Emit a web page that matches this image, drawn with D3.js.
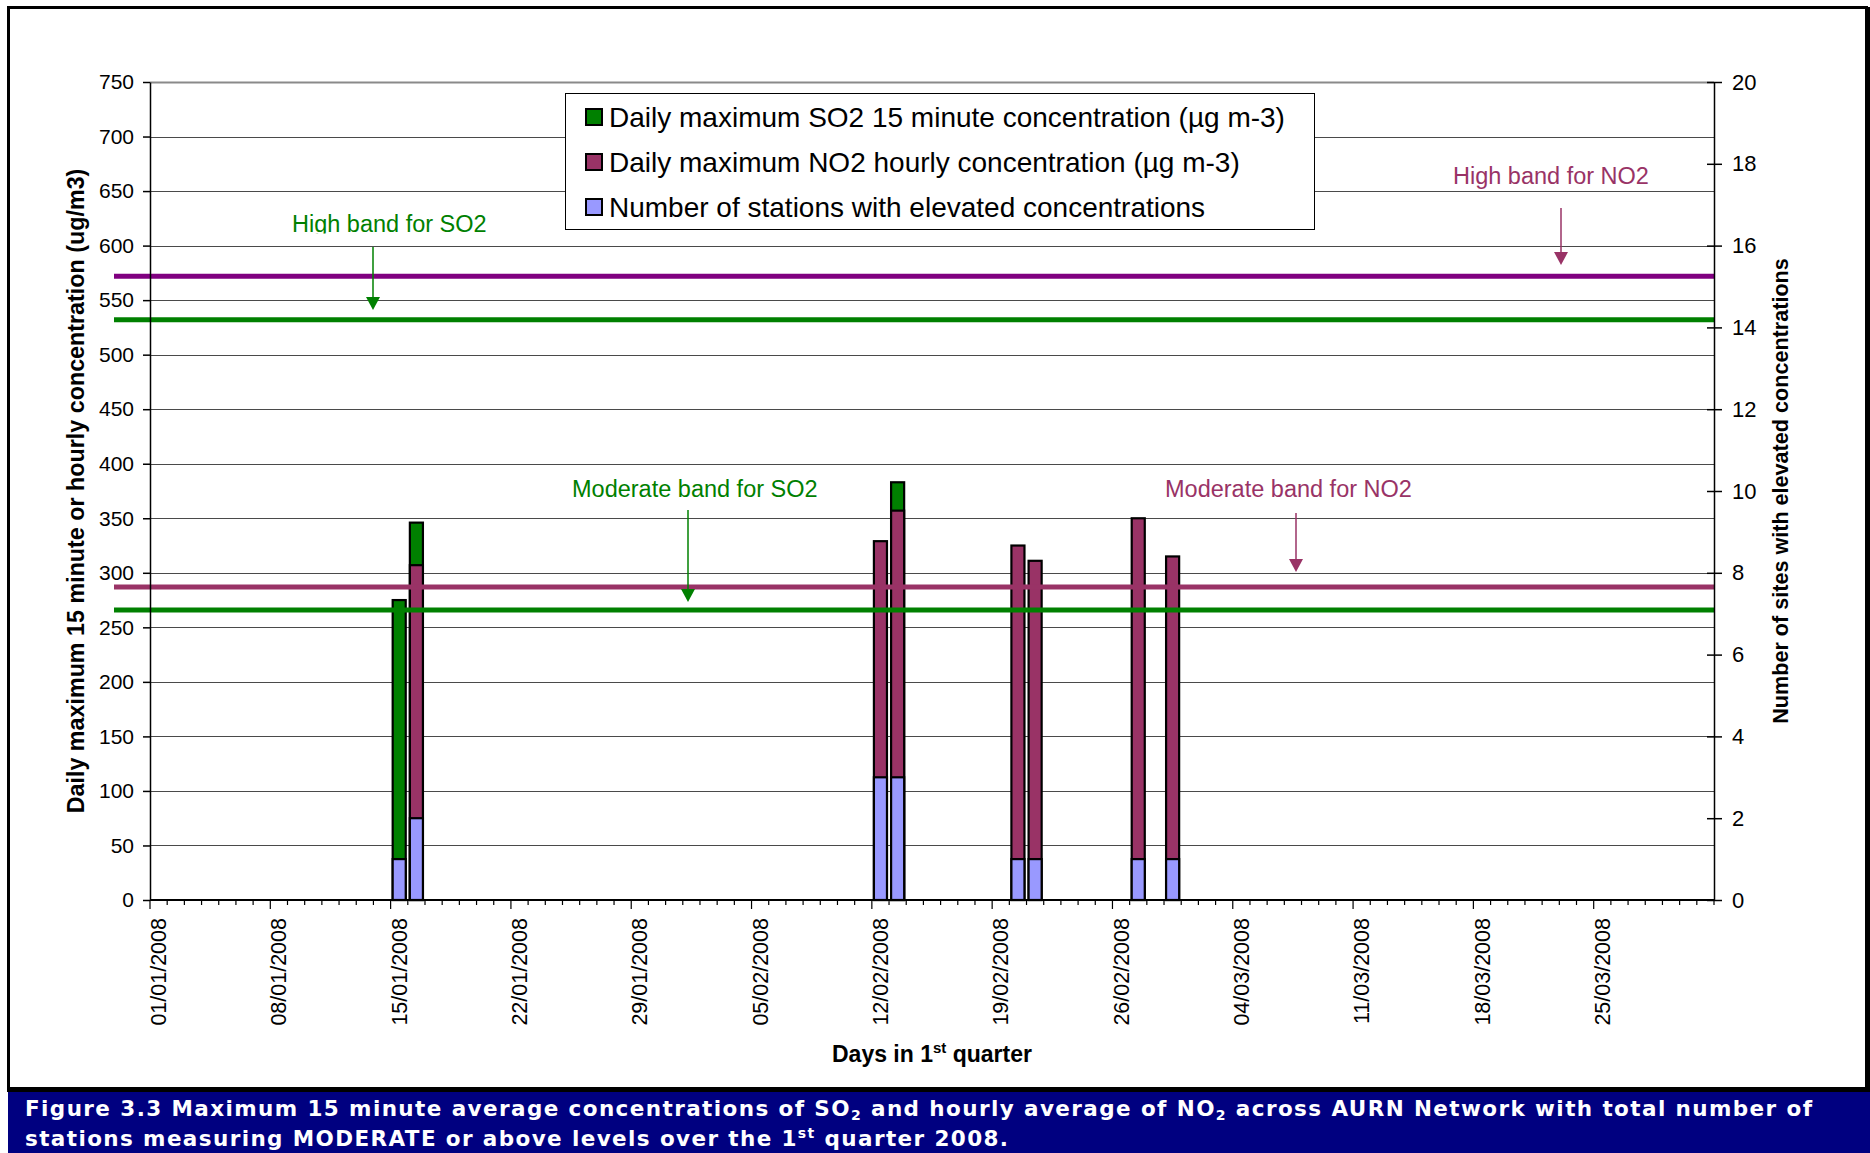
<!DOCTYPE html>
<html>
<head>
<meta charset="utf-8">
<script src="https://cdn.jsdelivr.net/npm/d3@7"></script>
<style>
  body { margin: 0; background: #fff; }
  svg { display: block; }
</style>
</head>
<body>
<svg id="chart" width="1870" height="1153"></svg>
<script>
// ---- Data -------------------------------------------------------------
// Category axis: every day of the first quarter of 2008
const quarterStart = "01/01/2008";
const quarterEnd = "31/03/2008";

// Days on which at least one station measured MODERATE or above
const eventDays = ["15/01/2008", "16/01/2008", "12/02/2008", "13/02/2008",
                   "20/02/2008", "21/02/2008", "27/02/2008", "29/02/2008"];
// Daily maximum SO2 15 minute concentration (µg m-3)
const so2Max = [275, 346, null, 383, null, null, null, null];
// Daily maximum NO2 hourly concentration (µg m-3)
const no2Max = [null, 307, 329, 357, 325, 311, 350, 315];
// Number of stations with elevated concentrations (right axis)
const stationCounts = [1, 2, 3, 3, 1, 1, 1, 1];

// Banding thresholds (µg m-3)
const bandLabels = ["High band for NO2", "High band for SO2", "Moderate band for NO2", "Moderate band for SO2"];
const bandValues = [572, 532, 287, 266];

// Axis ticks
const leftTicks = [0, 50, 100, 150, 200, 250, 300, 350, 400, 450, 500, 550, 600, 650, 700, 750];
const rightTicks = [0, 2, 4, 6, 8, 10, 12, 14, 16, 18, 20];
const xTickLabels = ["01/01/2008", "08/01/2008", "15/01/2008", "22/01/2008", "29/01/2008",
                     "05/02/2008", "12/02/2008", "19/02/2008", "26/02/2008", "04/03/2008",
                     "11/03/2008", "18/03/2008", "25/03/2008"];

// ---- Layout -----------------------------------------------------------
const W = 1870, H = 1153;
const plot = { left: 150, right: 1714, top: 82, bottom: 900 };
const colors = { so2: "#008000", no2: "#993366", count: "#9999FF", navy: "#000080" };
const bandStyle = [
  { color: "#800080", text: "#993366", tx: 1453, ty: 184, ax: 1561, a0: 208, a1: 265 },
  { color: "#008000", text: "#008000", tx: 292,  ty: 232, ax: 373,  a0: 247, a1: 310, clip: 233.5 },
  { color: "#993366", text: "#993366", tx: 1165, ty: 497, ax: 1296, a0: 513, a1: 572 },
  { color: "#008000", text: "#008000", tx: 572,  ty: 497, ax: 688,  a0: 510, a1: 602 }
];

const svg = d3.select("#chart");
const parse = d3.timeParse("%d/%m/%Y");
const fmt = d3.timeFormat("%d/%m/%Y");
const days = d3.timeDay.range(parse(quarterStart), d3.timeDay.offset(parse(quarterEnd), 1)).map(fmt);

const x = d3.scaleBand(days, [plot.left, plot.right]).paddingInner(0.24).paddingOuter(0.12);
const y = d3.scaleLinear([0, 750], [plot.bottom, plot.top]);
const y2 = d3.scaleLinear([0, 20], [plot.bottom, plot.top]);
const step = x.step();
const slotStart = d => x(d) - step * 0.12;

// ---- Frame and caption band -------------------------------------------
svg.append("rect").attr("width", W).attr("height", H).attr("fill", "#fff");
svg.append("rect").attr("x", 8).attr("y", 1090).attr("width", W - 8).attr("height", H - 1090)
  .attr("fill", colors.navy);
svg.append("rect").attr("x", 8.5).attr("y", 7.5).attr("width", 1858).attr("height", 1082)
  .attr("fill", "none").attr("stroke", "#000").attr("stroke-width", 3);
svg.append("rect").attr("x", 7).attr("y", 1087).attr("width", W - 7).attr("height", 5).attr("fill", "#000");
svg.append("rect").attr("x", 1866).attr("y", 7).attr("width", 4).attr("height", 1085).attr("fill", "#000");

// ---- Gridlines --------------------------------------------------------
svg.append("g").selectAll("line").data(leftTicks.filter(v => v > 0)).join("line")
  .attr("x1", plot.left).attr("x2", plot.right)
  .attr("y1", d => Math.round(y(d)) + 0.5).attr("y2", d => Math.round(y(d)) + 0.5)
  .attr("stroke", d => d === 750 ? "#8a8a8a" : "#4a4a4a")
  .attr("stroke-width", d => d === 750 ? 2 : 1);

// ---- Bars -------------------------------------------------------------
const barLayer = svg.append("g").attr("stroke", "#000").attr("stroke-width", 2.2);
function drawBars(values, scale, fill) {
  const rows = eventDays.map((d, i) => ({ d, v: values[i] })).filter(r => r.v != null);
  barLayer.append("g").selectAll("rect").data(rows).join("rect")
    .attr("x", r => x(r.d)).attr("width", x.bandwidth())
    .attr("y", r => scale(r.v)).attr("height", r => scale(0) - scale(r.v))
    .attr("fill", fill);
}
drawBars(so2Max, y, colors.so2);
drawBars(no2Max, y, colors.no2);
drawBars(stationCounts, y2, colors.count);

// ---- Band threshold lines ---------------------------------------------
svg.append("g").selectAll("line").data(bandValues).join("line")
  .attr("x1", 114).attr("x2", plot.right)
  .attr("y1", d => y(d)).attr("y2", d => y(d))
  .attr("stroke", (d, i) => bandStyle[i].color).attr("stroke-width", 5);

// ---- Band annotations -------------------------------------------------
const defs = svg.append("defs");
bandLabels.forEach((label, i) => {
  const s = bandStyle[i];
  const g = svg.append("g");
  const t = g.append("text").attr("x", s.tx).attr("y", s.ty)
    .attr("font-family", "'Liberation Sans', Arial, sans-serif").attr("font-size", 23.5)
    .attr("fill", s.text).text(label);
  if (s.clip) {
    defs.append("clipPath").attr("id", "clip" + i)
      .append("rect").attr("x", 0).attr("y", 0).attr("width", W).attr("height", s.clip);
    t.attr("clip-path", `url(#clip${i})`);
  }
  g.append("line").attr("x1", s.ax).attr("x2", s.ax).attr("y1", s.a0).attr("y2", s.a1 - 10)
    .attr("stroke", s.text).attr("stroke-width", 1.5);
  g.append("path").attr("d", `M${s.ax - 7},${s.a1 - 13} L${s.ax + 7},${s.a1 - 13} L${s.ax},${s.a1} Z`)
    .attr("fill", s.text);
});

// ---- Axes -------------------------------------------------------------
const tickFont = "'Liberation Sans', Arial, sans-serif";

const leftAxis = svg.append("g").attr("transform", `translate(${plot.left},0)`)
  .call(d3.axisLeft(y).tickValues(leftTicks).tickSize(7).tickPadding(9).tickSizeOuter(0));
leftAxis.selectAll("text").attr("font-family", tickFont).attr("font-size", 21).attr("fill", "#000");
leftAxis.selectAll("line, path").attr("stroke", "#000").attr("stroke-width", 1.5);

const rightAxis = svg.append("g").attr("transform", `translate(${plot.right},0)`)
  .call(d3.axisRight(y2).tickValues(rightTicks).tickSize(8).tickPadding(10).tickSizeOuter(0));
rightAxis.selectAll(".tick line").attr("x1", -7);
rightAxis.selectAll("text").attr("font-family", tickFont).attr("font-size", 22).attr("fill", "#000");
rightAxis.selectAll("line, path").attr("stroke", "#000").attr("stroke-width", 1.5);

// Category axis: baseline, ticks between days, rotated date labels
const xAxis = svg.append("g");
xAxis.append("line").attr("x1", plot.left).attr("x2", plot.right)
  .attr("y1", plot.bottom).attr("y2", plot.bottom).attr("stroke", "#000").attr("stroke-width", 2);
const boundaries = days.map(slotStart).concat([plot.right]);
xAxis.append("g").selectAll("line").data(boundaries).join("line")
  .attr("x1", d => d).attr("x2", d => d)
  .attr("y1", plot.bottom)
  .attr("y2", (d, i) => plot.bottom + (i < days.length && xTickLabels.includes(days[i]) ? 9 : 5))
  .attr("stroke", "#000").attr("stroke-width", 1.2);
xAxis.append("g").selectAll("text").data(xTickLabels).join("text")
  .attr("transform", d => `translate(${x(d) + x.bandwidth() / 2},918) rotate(-90)`)
  .attr("text-anchor", "end").attr("dy", "0.35em")
  .attr("font-family", tickFont).attr("font-size", 21.5).attr("fill", "#000")
  .text(d => d);

// ---- Axis titles ------------------------------------------------------
const titleFont = "'Liberation Sans', Arial, sans-serif";
svg.append("text")
  .attr("transform", `translate(76,${(plot.top + plot.bottom) / 2}) rotate(-90)`)
  .attr("text-anchor", "middle").attr("dy", "0.35em")
  .attr("font-family", titleFont).attr("font-weight", "bold").attr("font-size", 23.3)
  .text("Daily maximum 15 minute or hourly concentration (ug/m3)");
svg.append("text")
  .attr("transform", `translate(1780,${(plot.top + plot.bottom) / 2}) rotate(-90)`)
  .attr("text-anchor", "middle").attr("dy", "0.35em")
  .attr("font-family", titleFont).attr("font-weight", "bold").attr("font-size", 21.6)
  .text("Number of sites with elevated concentrations");
const xt = svg.append("text").attr("x", (plot.left + plot.right) / 2).attr("y", 1062)
  .attr("text-anchor", "middle")
  .attr("font-family", titleFont).attr("font-weight", "bold").attr("font-size", 23);
xt.append("tspan").text("Days in 1");
xt.append("tspan").attr("font-size", 15).attr("dy", -9).text("st");
xt.append("tspan").attr("dy", 9).text(" quarter");

// ---- Legend -----------------------------------------------------------
const legendItems = ["Daily maximum SO2 15 minute concentration (µg m-3)",
                     "Daily maximum NO2 hourly concentration (µg m-3)",
                     "Number of stations with elevated concentrations"];
const legendColors = [colors.so2, colors.no2, colors.count];
const legend = svg.append("g");
legend.append("rect").attr("x", 565.5).attr("y", 93.5).attr("width", 749).attr("height", 136)
  .attr("fill", "#fff").attr("stroke", "#000").attr("stroke-width", 1);
const rowY = [117, 162, 207];
legendItems.forEach((label, i) => {
  legend.append("rect").attr("x", 586).attr("y", rowY[i] - 8).attr("width", 16).attr("height", 16)
    .attr("fill", legendColors[i]).attr("stroke", "#000").attr("stroke-width", 2);
  legend.append("text").attr("x", 609).attr("y", rowY[i]).attr("dy", "0.35em")
    .attr("font-family", tickFont).attr("font-size", 28).attr("fill", "#000").text(label);
});

// ---- Figure caption ---------------------------------------------------
const capFont = "'DejaVu Sans', Verdana, sans-serif";
const cap1 = svg.append("text").attr("x", 25).attr("y", 1116)
  .attr("font-family", capFont).attr("font-weight", "bold").attr("font-size", 21.5).attr("fill", "#fff")
  .attr("textLength", 1787).attr("lengthAdjust", "spacing");
cap1.append("tspan").text("Figure 3.3 Maximum 15 minute average concentrations of SO");
cap1.append("tspan").attr("font-size", 14).attr("dy", 4).text("2");
cap1.append("tspan").attr("dy", -4).text(" and hourly average of NO");
cap1.append("tspan").attr("font-size", 14).attr("dy", 4).text("2");
cap1.append("tspan").attr("dy", -4).text(" across AURN Network with total number of");
const cap2 = svg.append("text").attr("x", 25).attr("y", 1146)
  .attr("font-family", capFont).attr("font-weight", "bold").attr("font-size", 21.5).attr("fill", "#fff")
  .attr("textLength", 983).attr("lengthAdjust", "spacing");
cap2.append("tspan").text("stations measuring MODERATE or above levels over the 1");
cap2.append("tspan").attr("font-size", 14).attr("dy", -8).text("st");
cap2.append("tspan").attr("dy", 8).text(" quarter 2008.");
</script>
</body>
</html>
